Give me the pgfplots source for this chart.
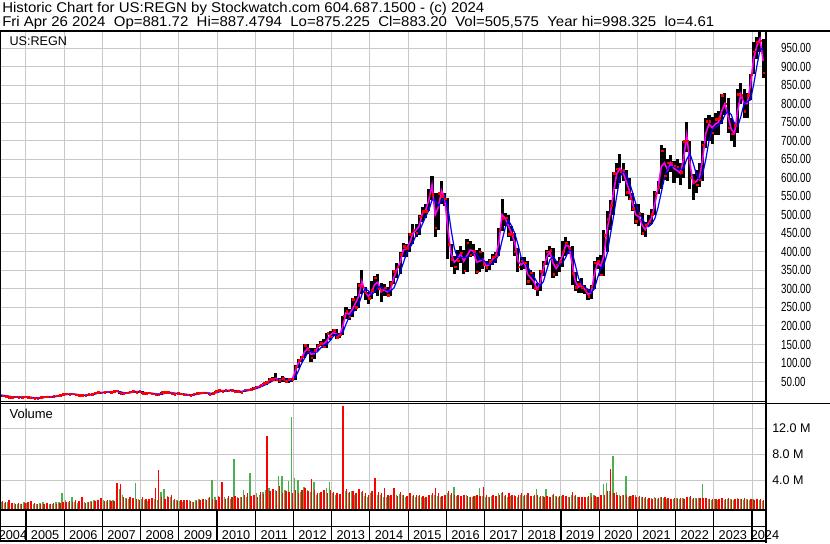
\documentclass[border=0pt]{standalone}
\usepackage{pgfplots}
\pgfplotsset{compat=1.18}
\usepackage{pgfplotstable}
\usepackage{graphicx}
\usepackage{fontspec}
\setmainfont{Liberation Sans}
\definecolor{gridgray}{RGB}{200,200,200}
\definecolor{vgreen}{RGB}{76,175,80}
\definecolor{vred}{RGB}{255,0,0}
\definecolor{mag}{RGB}{255,0,255}
\definecolor{mblue}{RGB}{0,0,255}

\pgfplotstableread{
x lo hi cl ma ml vg vr
2004.2917 12 14.5 13 13.2 13.5 0.9 1.3
2004.375 10.5 13.5 11.5 12.0 13.0 0.6 0.8
2004.4583 9.5 12 10.5 10.8 12.0 0.5 0.7
2004.5417 7 10.5 7.8 8.8 10.8 0.6 0.9
2004.625 7 8.5 7.7 7.8 9.3 0.4 0.5
2004.7083 7.5 9.5 8.7 8.4 8.4 0.5 0.4
2004.7917 7 9 7.5 8.0 8.1 0.4 0.5
2004.875 7 8.5 7.9 7.7 8.0 0.4 0.4
2004.9583 7.5 9.8 9.2 8.6 8.1 0.6 0.5
2005.0417 7 9.5 7.6 8.3 8.2 0.5 0.7
2005.125 5.5 7.8 5.8 6.6 7.6 0.4 0.8
2005.2083 4.9 6 5.2 5.4 6.6 0.3 0.5
2005.2917 4.6 5.6 5.0 5.1 5.7 0.3 0.4
2005.375 5 7.5 7.0 6.1 5.5 0.5 0.3
2005.4583 6.5 8.8 8.4 7.7 6.3 0.6 0.4
2005.5417 8 9.8 9.2 8.9 7.6 0.5 0.5
2005.625 8.3 9.5 8.8 8.9 8.5 0.4 0.4
2005.7083 8.5 10 9.5 9.2 9.0 0.4 0.5
2005.7917 9.3 12 11.8 10.5 9.5 0.6 0.4
2005.875 11.5 14 13.5 12.7 10.8 0.7 0.5
2005.9583 13 16 15.6 14.6 12.6 2.0 0.6
2006.0417 15 17.5 16.5 16.2 14.5 1.0 0.7
2006.125 15 17 15.8 16.0 15.6 0.6 0.8
2006.2083 15.5 17.5 16.6 16.4 16.2 1.5 0.7
2006.2917 13.5 16.8 14.2 15.2 15.9 0.6 0.9
2006.375 12 14.5 12.6 13.2 14.9 0.5 0.8
2006.4583 11.5 13.5 12.8 12.6 13.7 0.5 1.5
2006.5417 11.5 13.5 12.4 12.6 12.8 0.6 0.5
2006.625 12.5 15.5 15.2 14.0 13.1 0.7 0.6
2006.7083 14.5 16.5 15.7 15.6 14.1 0.8 0.7
2006.7917 15.5 20 19.5 17.6 15.7 1.0 0.8
2006.875 19 22 21 20.4 17.9 0.9 1.0
2006.9583 19 21.5 20.1 20.5 19.5 0.7 1.3
2007.0417 19.5 23 21.5 21.0 20.3 0.9 0.8
2007.125 21 24 22.8 22.3 21.0 0.8 0.9
2007.2083 20.5 23.5 21.6 22.0 21.8 0.9 0.8
2007.2917 21.5 25 23.5 22.8 22.3 1.0 0.8
2007.375 22 26.5 24.8 24.3 23.0 3.0 3.6
2007.4583 17.5 24 18 20.5 22.6 2.7 3.4
2007.5417 16 19 17.5 17.6 20.4 1.8 1.5
2007.625 17 20.5 19.8 18.6 18.8 1.3 1.2
2007.7083 19.5 23 22.2 21.0 19.1 1.2 1.4
2007.7917 21.5 25.5 24.5 23.3 21.0 1.0 1.3
2007.875 20 25 21 22.4 22.3 3.6 1.1
2007.9583 21 25 24.2 23.0 22.8 1.2 1.0
2008.0417 16.5 24.5 17.5 20.0 22.0 1.1 1.4
2008.125 16 19.5 18.9 17.8 20.0 1.0 1.2
2008.2083 18 21 19.3 19.0 18.8 0.8 1.1
2008.2917 15.5 20 16.8 17.8 18.4 0.9 1.3
2008.375 14.5 17.5 15.7 16.0 17.5 1.2 2.8
2008.4583 13.5 16 14.4 14.8 16.1 1.0 5.6
2008.5417 14 22 21.6 17.5 16.0 2.2 1.5
2008.625 19.5 23 21.2 21.3 17.8 2.6 1.2
2008.7083 19 23.5 21.8 21.4 20.0 1.6 1.5
2008.7917 15 22 18.1 19.0 20.5 1.4 1.8
2008.875 14 19 16.2 16.8 19.0 1.0 1.2
2008.9583 16 19.5 18.4 17.4 17.7 0.9 0.8
2009.0417 16 19 16.9 17.3 17.3 0.8 1.0
2009.125 13.5 17.5 14.5 15.5 16.6 0.7 0.9
2009.2083 12 15 13.9 13.8 15.5 0.8 1.0
2009.2917 12.5 15 13.5 13.8 14.4 0.9 0.8
2009.375 13 16 15.5 14.6 14.1 0.7 0.6
2009.4583 15 18.5 17.9 16.6 14.9 1.0 0.8
2009.5417 16.5 20.5 19.8 18.6 16.5 1.2 0.9
2009.625 18.5 21 20 19.9 18.2 1.0 1.1
2009.7083 18 21.5 19.3 19.7 19.2 1.1 1.0
2009.7917 15 19.5 15.8 17.2 19.0 1.3 1.5
2009.875 15.5 19 18.6 17.3 18.0 4.0 1.2
2009.9583 18.5 24.8 24.3 21.2 18.8 1.5 1.0
2010.0417 23 27.5 26.4 25.2 21.5 1.6 1.4
2010.125 22.5 26.5 24.5 25.0 23.8 1.3 3.7
2010.2083 23.5 27.5 26.5 25.6 25.3 1.5 1.2
2010.2917 24 27.5 25.5 25.7 25.5 1.3 1.6
2010.375 24.5 28.5 27 26.3 25.8 1.2 1.5
2010.4583 21.5 27 22.3 24.3 25.4 7.3 1.6
2010.5417 21.5 25 23.8 23.2 24.6 1.4 1.3
2010.625 20.5 24 21.7 22.6 23.4 1.5 1.4
2010.7083 21.5 28 27.4 24.6 23.4 2.5 1.8
2010.7917 26 29.5 27.6 27.5 24.8 1.5 2.0
2010.875 26.5 30 29.2 28.3 26.8 5.1 1.6
2010.9583 29 34 32.8 31.2 28.9 1.8 1.8
2011.0417 32 38 36.2 34.8 31.5 2.0 1.5
2011.125 34 41 40.1 38.0 34.5 1.8 2.2
2011.2083 40 46 44.9 43.0 38.5 2.2 1.9
2011.2917 40 52 48 46.5 42.5 2.5 10.8
2011.375 48 60 56.2 53.0 47.0 2.8 2.4
2011.4583 52 62 56.7 57.0 52.0 2.2 2.6
2011.5417 52 72 55 58.5 55.5 2.5 2.4
2011.625 45 60 54 54.5 56.5 4.6 3.2
2011.7083 50 64 58 56.0 56.5 4.6 2.0
2011.7917 48 60 50.5 54.0 55.5 2.5 2.4
2011.875 46 60 57 53.5 54.5 3.9 2.2
2011.9583 50 60 55.4 55.0 54.3 13.7 2.0
2012.0417 55 95 88 75 60 4.4 2.5
2012.125 86 112 108 100 78 4.0 2.0
2012.2083 104 120 116.6 112 98 2.2 2.5
2012.2917 113 150 148 130 113 3.0 2.8
2012.375 125 150 136 140 128 2.5 2.3
2012.4583 104 140 114 124 132 2.2 4.2
2012.5417 112 140 135 125 128 3.7 2.5
2012.625 133 150 146 141 130 1.8 2.0
2012.7083 145 160 152.6 151 140 2.0 2.2
2012.7917 140 166 144 151 148 1.8 2.5
2012.875 140 182 181 160 151 2.8 2.0
2012.9583 162 185 171 175 160 3.7 2.5
2013.0417 172 192 188 182 172 2.0 2.2
2013.125 165 192 170 178 177 1.8 2.0
2013.2083 168 180 176 174 177 1.7 1.9
2013.2917 176 228 227 200 182 4.4 15.4
2013.375 220 250 240 235 205 2.4 2.7
2013.4583 215 245 225 232 225 2.0 2.2
2013.5417 224 275 272 245 235 2.3 2.4
2013.625 240 280 250 262 245 1.8 2.0
2013.7083 249 315 310 280 258 2.0 2.6
2013.7917 285 350 306 320 285 2.2 2.4
2013.875 270 305 290 292 300 1.6 2.0
2013.9583 260 292 275 280 295 1.5 1.8
2014.0417 272 320 297 290 285 2.0 2.4
2014.125 290 335 330 312 292 3.0 4.3
2014.2083 280 340 300 318 305 1.8 2.2
2014.2917 265 315 297 292 305 1.7 2.0
2014.375 280 312 303 298 300 1.5 2.8
2014.4583 280 305 282 292 295 1.4 1.7
2014.5417 280 320 315 298 294 1.6 1.8
2014.625 312 350 348 330 302 1.6 2.8
2014.7083 330 370 360 352 322 1.8 1.6
2014.7917 340 400 393 372 345 1.9 2.2
2014.875 385 425 415 405 370 1.7 1.8
2014.9583 385 420 410 408 395 1.5 1.6
2015.0417 400 450 448 425 410 1.8 2.0
2015.125 420 475 460 450 425 1.6 1.8
2015.2083 440 475 452 458 445 1.5 1.7
2015.2917 445 500 495 470 455 1.6 1.8
2015.375 480 520 510 505 475 1.4 1.6
2015.4583 490 530 510 512 495 1.3 1.5
2015.5417 510 570 553 540 512 1.6 1.8
2015.625 540 605 555 580 540 1.7 2.0
2015.7083 440 560 465 500 540 1.8 2.8
2015.7917 460 560 558 520 525 1.6 2.0
2015.875 530 590 550 565 535 1.5 1.6
2015.9583 525 560 543 545 548 1.4 1.7
2016.0417 380 545 420 460 520 2.0 2.4
2016.125 360 420 380 395 460 1.8 2.0
2016.2083 340 390 360 372 410 3.0 1.8
2016.2917 350 405 376 380 385 1.6 1.7
2016.375 370 415 398 395 385 1.5 1.6
2016.4583 340 405 349 375 385 1.6 1.8
2016.5417 345 435 425 390 385 1.8 1.6
2016.625 385 430 392 405 390 1.5 1.4
2016.7083 390 420 402 402 398 1.4 1.6
2016.7917 340 405 346 372 395 1.6 1.8
2016.875 345 410 400 375 380 2.8 1.6
2016.9583 355 400 367 380 378 1.6 3.0
2017.0417 345 375 358 362 372 1.5 1.8
2017.125 350 380 375 365 366 1.4 1.5
2017.2083 365 395 387 380 368 1.6 1.7
2017.2917 370 400 389 388 378 1.5 1.6
2017.375 390 465 460 425 392 2.0 1.8
2017.4583 455 543 490 500 430 2.0 2.2
2017.5417 470 505 492 490 465 1.6 1.8
2017.625 440 500 447 470 485 1.5 2.0
2017.7083 430 470 447 450 470 1.6 1.7
2017.7917 390 450 400 425 450 1.8 1.6
2017.875 345 410 360 375 420 1.5 1.8
2017.9583 350 385 376 365 385 1.7 2.0
2018.0417 355 385 370 372 372 1.6 1.8
2018.125 310 375 320 340 362 1.8 2.0
2018.2083 310 350 344 330 345 1.5 1.6
2018.2917 300 345 302 320 333 1.6 1.8
2018.375 281 315 300 298 318 2.7 1.7
2018.4583 295 350 347 318 308 1.5 1.6
2018.5417 335 375 368 355 320 1.6 1.5
2018.625 365 405 400 385 350 2.6 1.6
2018.7083 385 415 404 400 378 1.5 1.4
2018.7917 330 410 340 370 388 1.8 1.9
2018.875 335 375 365 355 375 1.6 1.5
2018.9583 345 385 374 368 365 1.4 1.6
2019.0417 360 430 400 390 370 1.6 1.8
2019.125 390 440 425 418 385 1.5 1.6
2019.2083 395 430 410 415 405 1.4 1.5
2019.2917 310 415 342 370 400 1.8 2.2
2019.375 295 345 305 320 365 1.6 1.7
2019.4583 290 320 313 305 330 1.4 1.5
2019.5417 290 330 305 310 312 1.5 1.4
2019.625 285 310 296 298 305 1.3 1.4
2019.7083 271 300 280 285 298 1.5 1.6
2019.7917 272 310 306 290 290 2.1 1.5
2019.875 300 375 370 340 300 1.7 1.6
2019.9583 355 385 375 370 330 1.5 1.4
2020.0417 335 392 338 362 355 1.6 1.7
2020.125 335 460 445 390 365 3.5 1.8
2020.2083 400 510 488 460 395 3.6 2.4
2020.2917 460 540 525 505 445 2.4 5.7
2020.375 500 615 612 560 495 7.7 2.0
2020.4583 570 640 624 610 550 2.2 1.8
2020.5417 585 664 618 625 600 1.8 1.6
2020.625 590 640 620 615 618 1.7 1.7
2020.7083 550 620 560 590 610 4.6 1.8
2020.7917 540 600 543 565 588 1.5 1.6
2020.875 510 560 516 530 560 1.6 1.8
2020.9583 475 530 483 500 530 1.7 1.5
2021.0417 470 530 504 495 505 1.5 1.6
2021.125 445 505 450 472 490 1.4 1.5
2021.2083 441 480 473 460 475 1.3 1.4
2021.2917 470 500 481 478 468 1.2 1.3
2021.375 475 515 502 492 475 1.3 1.2
2021.4583 500 565 558 530 490 1.4 1.3
2021.5417 555 590 575 572 520 1.2 1.3
2021.625 570 687 673 630 560 1.5 1.4
2021.7083 595 680 605 640 600 1.3 1.5
2021.7917 590 650 640 620 625 1.2 1.3
2021.875 615 660 640 640 630 1.1 1.2
2021.9583 585 645 632 625 630 1.2 1.3
2022.0417 600 650 630 620 628 1.3 1.2
2022.125 580 640 615 612 622 1.2 1.3
2022.2083 600 700 698 650 625 1.3 1.2
2022.2917 670 750 700 715 650 1.4 1.5
2022.375 570 700 600 640 665 1.5 1.6
2022.4583 540 610 591 585 640 1.2 1.3
2022.5417 560 620 581 590 610 1.3 1.2
2022.625 575 640 594 600 595 1.3 1.3
2022.7083 590 700 689 650 610 3.4 1.3
2022.7917 680 760 752 720 650 1.2 1.3
2022.875 700 770 752 745 700 1.1 1.2
2022.9583 690 765 721 735 730 1.0 1.2
2023.0417 715 775 758 745 735 1.1 1.2
2023.125 715 780 760 750 742 1.0 1.1
2023.2083 745 825 822 780 750 1.2 1.3
2023.2917 770 830 800 800 770 1.0 1.1
2023.375 720 815 735 765 780 1.1 1.3
2023.4583 700 760 719 730 770 1.2 1.0
2023.5417 684 750 742 720 745 1.0 1.1
2023.625 720 840 826 780 738 1.3 1.2
2023.7083 800 855 823 825 765 1.1 1.2
2023.7917 760 840 780 800 800 1.0 1.3
2023.875 760 830 823 800 805 1.1 1.0
2023.9583 810 880 878 850 810 1.0 1.1
2024.0417 880 965 940 920 850 1.1 1.0
2024.125 920 980 965 955 900 1.0 1.2
2024.2083 940 998 970 975 945 0.9 1.1
2024.2917 870 975 883 915 950 0.8 1.0
}\regn

\pgfplotsset{
  chartbase/.style={
    scale only axis, width=574.5pt,
    xmin=2004.3196, xmax=2024.3667,
    axis line style={draw=none},
    xtick={2005,2006,...,2024}, xticklabels={},
    major tick length=0pt,
    xmajorgrids, ymajorgrids,
    major grid style={draw=gridgray, line width=0.75pt},
    yticklabel pos=right,
    /pgf/number format/assume math mode=true,
  }
}

\begin{document}
\begin{tikzpicture}
% header
\begin{scope}[x=0.75pt,y=-0.75pt]
\node[anchor=base west, inner sep=0pt, xscale=1.06, font=\fontsize{10.6}{12}\selectfont] at (2,12.7) {Historic Chart for US:REGN by Stockwatch.com 604.687.1500 - (c) 2024};
\node[anchor=base west, inner sep=0pt, xscale=1.06, font=\fontsize{10.6}{12}\selectfont] at (2,26.7) {Fri Apr 26 2024\ \ Op=881.72\ \ Hi=887.4794\ \ Lo=875.225\ \ Cl=883.20\ \ Vol=505,575\ \ Year hi=998.325\ \ lo=4.61};
\end{scope}

% price panel
\begin{axis}[chartbase,
  at={(0pt,-300.75pt)}, anchor=south west, height=277.5pt,
  ymin=-2.6, ymax=996,
  ytick={50,100,...,950},
  yticklabels={50.00,100.00,150.00,200.00,250.00,300.00,350.00,400.00,450.00,500.00,550.00,600.00,650.00,700.00,750.00,800.00,850.00,900.00,950.00},
  yticklabel style={font=\fontsize{9.9}{10}\selectfont, anchor=west, inner sep=0pt, xshift=11.2pt, xscale=0.74},
]
\addplot[draw=none, error bars/.cd, y dir=both, y explicit, error mark=none,
  error bar style={draw=black, line width=2.3pt}]
  table[x=x, y expr=(\thisrow{hi}+\thisrow{lo})/2, y error expr=(\thisrow{hi}-\thisrow{lo})/2] {\regn};
\addplot[only marks, mark=square*, mark size=0.6pt, vred, mark options={draw=none, fill=vred}]
  table[x expr=\thisrow{x}+0.02, y=cl] {\regn};
\addplot[mag, line width=1.2pt] table[x=x, y=ma] {\regn};
\addplot[mblue, line width=0.9pt] table[x=x, y=ml] {\regn};
\end{axis}

% volume panel
\begin{axis}[chartbase,
  at={(0pt,-382.5pt)}, anchor=south west, height=80.25pt,
  ymin=-0.57, ymax=15.89,
  ytick={4,8,12},
  yticklabels={4.0 M,8.0 M,12.0 M},
  yticklabel style={font=\fontsize{9.4}{10}\selectfont, anchor=west, inner sep=0pt, xshift=4.5pt},
]
\addplot[draw=none, error bars/.cd, y dir=minus, y explicit, error mark=none,
  error bar style={draw=vgreen, line width=1.1pt}]
  table[x expr=\thisrow{x}-0.0104, y=vg, y error expr=\thisrow{vg}+1] {\regn};
\addplot[draw=none, error bars/.cd, y dir=minus, y explicit, error mark=none,
  error bar style={draw=vred, line width=1.1pt}]
  table[x expr=\thisrow{x}+0.0104, y=vr, y error expr=\thisrow{vr}+1] {\regn};
\end{axis}

% frame and year boxes (pixel coordinates)
\begin{scope}[x=0.75pt,y=-0.75pt]
\draw[black, line width=1.5pt] (0,30.5) -- (830,30.5);
\draw[black, line width=1.5pt] (766,30.5) -- (766,543);
\draw[black, line width=0.75pt] (0.5,30.5) -- (0.5,541);
\draw[black, line width=0.75pt] (0,401) -- (766,401);
\draw[black, line width=0.75pt] (0,403.3) -- (830,403.3);
\draw[black, line width=1.2pt] (0,510) -- (766,510);
\draw[black, line width=0.9pt] (0,526.5) -- (766,526.5);
\draw[black, line width=1.2pt] (0,540.8) -- (766,540.8);
\foreach \k in {0,...,19} {
  \pgfmathsetmacro{\px}{26+\k*38.21}
  \draw[black, line width=0.9pt] (\px,510) -- (\px,541);
}
\node[anchor=base, inner sep=0pt, font=\fontsize{9.55}{10}\selectfont] at (13,539) {2004};
\foreach \k in {0,...,18} {
  \pgfmathsetmacro{\px}{26+(\k+0.5)*38.21}
  \pgfmathtruncatemacro{\yr}{2005+\k}
  \node[anchor=base, inner sep=0pt, font=\fontsize{9.55}{10}\selectfont] at (\px,539) {\yr};
}
\node[anchor=base west, inner sep=0pt, font=\fontsize{9.55}{10}\selectfont] at (750.5,539) {2024};
\node[anchor=base west, inner sep=0pt, font=\fontsize{9.45}{10}\selectfont] at (9.3,45.7) {US:REGN};
\node[anchor=base west, inner sep=0pt, font=\fontsize{9.75}{10}\selectfont] at (9.3,418) {Volume};
\end{scope}
\pgfresetboundingbox
\useasboundingbox (0,0) rectangle (622.5pt,-407.25pt);
\end{tikzpicture}
\end{document}
